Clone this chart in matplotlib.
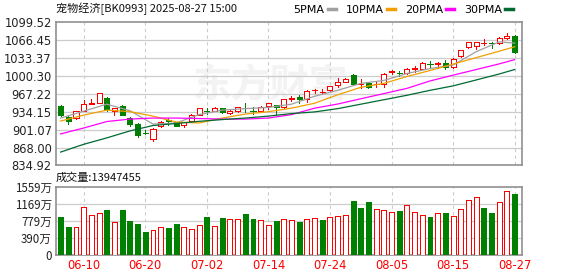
import numpy as np
import matplotlib
matplotlib.use('Agg')
import matplotlib.pyplot as plt
from matplotlib.lines import Line2D

plt.rcParams['font.family'] = ['DejaVu Sans']

# trading days shown (MM-DD), 2025-06-05 .. 2025-08-27
dates = ['06-05', '06-06', '06-09', '06-10', '06-11', '06-12', '06-13', '06-16', '06-17', '06-18',
         '06-19', '06-20', '06-23', '06-24', '06-25', '06-26', '06-27', '06-30', '07-01', '07-02',
         '07-03', '07-04', '07-07', '07-08', '07-09', '07-10', '07-11', '07-14', '07-15', '07-16',
         '07-17', '07-18', '07-21', '07-22', '07-23', '07-24', '07-25', '07-28', '07-29', '07-30',
         '07-31', '08-01', '08-04', '08-05', '08-06', '08-07', '08-08', '08-11', '08-12', '08-13',
         '08-14', '08-15', '08-18', '08-19', '08-20', '08-21', '08-22', '08-25', '08-26', '08-27']

opens = [944.6, 923.4, 921.6, 935.5, 948.5, 950.8, 959.9, 934.4, 944.6, 922.2,
         911.2, 895.0, 883.9, 907.0, 918.0, 914.3, 909.4, 917.3, 928.2, 936.0,
         935.5, 939.9, 930.7, 935.5, 941.0, 936.0, 935.5, 944.6, 946.0, 941.7,
         958.0, 961.5, 956.8, 973.5, 970.8, 973.8, 982.3, 989.0, 1001.1, 984.8,
         986.0, 984.5, 985.4, 1007.0, 1005.0, 1005.5, 1012.5, 1013.3, 1022.0, 1022.5,
         1023.3, 1016.4, 1035.7, 1052.9, 1055.2, 1060.5, 1061.0, 1060.1, 1069.0, 1072.3]
highs = [947.1, 925.3, 935.5, 955.0, 956.8, 969.0, 961.0, 941.0, 947.0, 924.0,
         913.0, 900.3, 903.0, 916.0, 921.6, 915.0, 915.0, 929.0, 941.0, 939.9,
         942.8, 941.0, 937.3, 943.0, 950.8, 941.7, 944.0, 950.0, 947.0, 958.0,
         962.8, 964.0, 973.0, 976.3, 976.0, 982.0, 996.3, 996.0, 1003.6, 994.5,
         989.0, 990.1, 1005.0, 1011.5, 1009.7, 1015.0, 1018.8, 1026.0, 1027.9, 1025.5,
         1029.7, 1032.0, 1048.0, 1063.0, 1062.5, 1067.0, 1063.0, 1071.0, 1078.0, 1075.3]
lows = [925.3, 911.2, 920.0, 935.0, 948.0, 950.0, 936.0, 927.6, 927.0, 907.0,
        887.0, 893.0, 880.8, 906.0, 910.0, 907.0, 905.2, 916.0, 927.0, 929.4,
        934.5, 931.5, 930.0, 933.5, 933.7, 929.4, 934.0, 938.6, 929.4, 940.0,
        953.7, 950.8, 951.0, 969.0, 967.0, 972.0, 979.2, 988.0, 982.9, 978.1,
        978.0, 980.0, 979.2, 1002.4, 999.3, 1004.0, 1007.3, 1012.5, 1015.7, 1014.6,
        1013.3, 1015.0, 1034.0, 1051.0, 1049.7, 1055.8, 1051.0, 1059.0, 1068.0, 1042.0]
closes = [928.2, 917.3, 934.4, 947.7, 949.5, 967.7, 938.6, 939.9, 928.2, 911.2,
          891.7, 894.0, 902.1, 915.4, 916.0, 908.1, 914.3, 927.6, 939.9, 935.0,
          939.9, 932.5, 934.4, 941.7, 939.9, 935.5, 942.8, 949.0, 941.7, 956.8,
          958.5, 956.8, 972.0, 974.5, 970.8, 981.0, 988.3, 994.5, 985.4, 984.8,
          980.0, 985.4, 1003.6, 1008.4, 1004.5, 1013.3, 1013.8, 1024.0, 1021.5, 1023.3,
          1016.4, 1031.0, 1046.7, 1062.0, 1061.5, 1060.5, 1060.0, 1070.3, 1072.5, 1043.3]

# volume in 万 (10k)
volumes = [867, 639, 639, 1095, 913, 951, 1027, 753, 1027, 776,
           707, 525, 570, 639, 616, 707, 639, 593, 684, 867,
           662, 844, 821, 821, 935, 821, 798, 684, 776, 821,
           798, 753, 813, 836, 798, 859, 882, 905, 1232, 1072,
           1209, 1042, 1019, 973, 1004, 1133, 973, 905, 867, 951,
           958, 882, 1042, 1247, 1316, 1072, 958, 1202, 1460, 1395]

# moving averages read at every third session
ma_idx = [0, 3, 6, 9, 12, 15, 18, 21, 24, 27, 30, 33, 36, 39, 42, 45, 48, 51, 54, 57, 59]
ma5 = [922.2, 934.9, 947.7, 935.8, 911.2, 913.1, 928.6, 936.8, 939.5, 941.7, 947.7,
       962.3, 973.2, 986.0, 991.4, 1004.2, 1013.3, 1019.7, 1044.3, 1062.5, 1060.1]
ma10 = [916.7, 927.6, 936.8, 934.0, 925.8, 914.9, 913.1, 922.2, 929.5, 934.0, 940.4,
        949.5, 965.0, 978.7, 986.0, 998.7, 1009.7, 1021.5, 1033.4, 1045.2, 1053.4]
ma20 = [893.0, 903.9, 915.8, 920.3, 922.2, 922.2, 921.3, 920.3, 920.3, 922.2, 928.5,
        940.4, 948.0, 957.7, 967.2, 976.8, 990.5, 1001.1, 1011.5, 1021.9, 1029.7]
ma30 = [859.6, 873.9, 885.7, 898.5, 908.5, 912.1, 916.2, 919.4, 922.2, 925.8, 930.4,
        933.5, 939.5, 947.7, 955.9, 964.1, 973.2, 981.4, 992.3, 1003.3, 1011.5]

price_ticks = [834.92, 868.00, 901.07, 934.15, 967.22, 1000.30, 1033.37, 1066.45, 1099.52]
vol_ticks = [0, 390, 779, 1169, 1559]
vol_labels = ['0', '390万', '779万', '1169万', '1559万']

RED = '#ff0000'
GREEN = '#008000'
CJK = ['Noto Sans CJK SC', 'DejaVu Sans']
PX = 0.72  # one pixel at 100 dpi, in points

fig = plt.figure(figsize=(5.78, 2.76), dpi=100)
ax = fig.add_axes([0.0969, 0.4004, 0.8068, 0.521])
axv = fig.add_axes([0.0969, 0.0761, 0.8068, 0.2475])

n = len(closes)
x = np.arange(n)
o = np.array(opens)
c = np.array(closes)
prev = np.concatenate([[c[0]], c[:-1]])
up = c >= o
vol_up = np.where(c > o, True, np.where(c < o, False, c >= prev))

# faint watermark
ax.text(0.46, 0.55, '东方财富', transform=ax.transAxes, fontsize=28, color='#f3f3f3',
        ha='center', va='center', family=CJK, fontweight='bold', zorder=0)

# candles
cols = [RED if u else GREEN for u in up]
ax.vlines(x, lows, highs, colors=cols, linewidth=PX, zorder=3, antialiased=False)
body_lo = np.minimum(o, c)
body_h = np.abs(c - o)
ax.bar(x, body_h, bottom=body_lo, width=0.66,
       facecolor=['white' if u else GREEN for u in up],
       edgecolor=cols, linewidth=PX, zorder=4, antialiased=False)

# moving averages
ax.plot(ma_idx, ma5, color='#a0a0a0', linewidth=0.9, zorder=5)
ax.plot(ma_idx, ma10, color='#f0a000', linewidth=0.9, zorder=5)
ax.plot(ma_idx, ma20, color='#ff00ff', linewidth=0.9, zorder=5)
ax.plot(ma_idx, ma30, color='#006a30', linewidth=0.9, zorder=5)

# volume
vcols = [RED if u else GREEN for u in vol_up]
axv.bar(x, volumes, width=0.64, facecolor=['white' if u else GREEN for u in vol_up],
        edgecolor=vcols, linewidth=PX, zorder=3, antialiased=False)

tick_pos = list(range(3, n, 8))
for a in (ax, axv):
    a.set_xlim(-0.6, 60.0)
    for t in tick_pos:
        a.axvline(t, color='#cccccc', linestyle=(0, (3, 3)), linewidth=0.8, zorder=1)
    for s in a.spines.values():
        s.set_color('#909090')
        s.set_linewidth(1.2)
    a.tick_params(length=0, labelsize=8.3, pad=3)

ax.set_ylim(price_ticks[0], price_ticks[-1])
ax.set_yticks(price_ticks)
ax.set_yticklabels(['%.2f' % v for v in price_ticks], color='#222222')
for v in price_ticks[1:-1]:
    ax.axhline(v, color='#cccccc', linewidth=0.9, zorder=1)
ax.set_xticks([])

axv.set_ylim(0, 1559)
axv.set_yticks(vol_ticks)
axv.set_yticklabels(vol_labels, color='#222222', family=CJK)
for v in vol_ticks[1:-1]:
    axv.axhline(v, color='#cccccc', linewidth=0.9, zorder=1)
axv.set_xticks(tick_pos)
axv.set_xticklabels([dates[i] for i in tick_pos], color=RED)

# header texts
fig.text(0.0969, 0.97, '宠物经济[BK0993] 2025-08-27 15:00', family=CJK, fontsize=8,
         va='center', ha='left', color='#111111')
fig.text(0.0969, 0.357, '成交量:13947455', family=CJK, fontsize=8,
         va='center', ha='left', color='#111111')

# legend row
items = [('5PMA', '#a0a0a0'), ('10PMA', '#f0a000'), ('20PMA', '#ff00ff'), ('30PMA', '#006a30')]
handles = [Line2D([], [], color=col, linewidth=2.5) for _, col in items]
leg = fig.legend(handles, [lab for lab, _ in items], loc='center right',
                 bbox_to_anchor=(0.905, 0.965), ncol=4, frameon=False, fontsize=8,
                 handlelength=0.7, handletextpad=0.3, columnspacing=0.9,
                 markerfirst=False)

fig.savefig('out.png', dpi=100)
